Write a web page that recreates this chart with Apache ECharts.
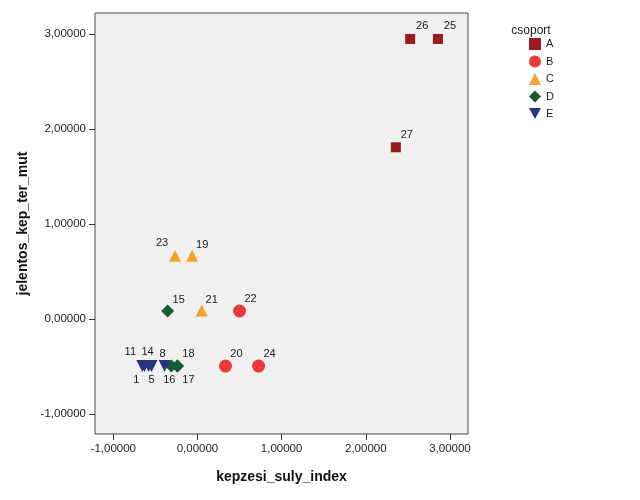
<!DOCTYPE html>
<html>
<head>
<meta charset="utf-8">
<script src="https://cdn.jsdelivr.net/npm/echarts@6/dist/echarts.min.js"></script>
<style>html,body{margin:0;padding:0;background:#fff}#c{width:640px;height:500px}</style>
</head>
<body>
<div id="c"></div>
<script>
// ---- data ----
const groups = ['A', 'B', 'C', 'D', 'E'];
const idsA = [25, 26, 27];
const xA = [2.857, 2.527, 2.357];
const yA = [2.948, 2.948, 1.808];
const idsB = [20, 22, 24];
const xB = [0.333, 0.500, 0.726];
const yB = [-0.496, 0.084, -0.496];
const idsC = [19, 21, 23];
const xC = [-0.063, 0.051, -0.266];
const yC = [0.665, 0.090, 0.665];
const idsD = [15, 16, 17, 18];
const xD = [-0.354, -0.310, -0.238, -0.238];
const yD = [0.084, -0.496, -0.496, -0.496];
const idsE = [1, 5, 8, 11, 14];
const xE = [-0.630, -0.545, -0.390, -0.655, -0.580];
const yE = [-0.496, -0.496, -0.496, -0.496, -0.496];
const tickValues = [-1, 0, 1, 2, 3];
const xName = 'kepzesi_suly_index';
const yName = 'jelentos_kep_ter_mut';
const legendTitle = 'csoport';

// ---- styling (label placement per case, relative to its marker) ----
const labelOffset = {
  25: [12, -13], 26: [12, -13], 27: [11, -12],
  23: [-13, -13], 19: [10, -11], 15: [11, -11], 21: [10, -10], 22: [11, -12],
  20: [11, -12], 24: [11, -12],
  11: [-12, -14], 1: [-8, 14], 14: [-1, -14], 5: [0, 14],
  8: [-2, -12], 16: [-2, 14], 18: [11, -12], 17: [11, 14]
};
const colors = ['#9C1B1F', '#EC393D', '#F4A12E', '#175B34', '#263580'];
const symbols = ['rect', 'circle', 'triangle', 'diamond', 'triangle'];
const legendIcons = ['rect', 'circle', 'triangle', 'diamond', 'path://M0,0 L10,0 L5,9 Z'];
const rotates = [0, 0, 0, 0, 180];
const sizes = [10, 13, 12, 13, 12];

const allIds = [idsA, idsB, idsC, idsD, idsE];
const allX = [xA, xB, xC, xD, xE];
const allY = [yA, yB, yC, yD, yE];

const fmt = v => v.toFixed(5).replace('.', ',');
const FONT = 'Liberation Sans, Arial, sans-serif';

const series = groups.map((g, gi) => ({
  name: g,
  type: 'scatter',
  symbol: symbols[gi],
  symbolRotate: rotates[gi],
  symbolSize: sizes[gi],
  itemStyle: { color: colors[gi], opacity: 1 },
  emphasis: { disabled: true },
  data: allIds[gi].map((id, i) => ({
    value: [allX[gi][i], allY[gi][i]],
    label: {
      show: true,
      formatter: String(id),
      position: 'inside',
      offset: labelOffset[id] || [11, -12],
      color: '#1a1a1a',
      fontSize: 11,
      fontFamily: FONT
    }
  }))
}));

const chart = echarts.init(document.getElementById('c'), null, { renderer: 'canvas' });
chart.setOption({
  animation: false,
  backgroundColor: '#ffffff',
  textStyle: { fontFamily: FONT },
  title: {
    text: legendTitle,
    left: 526, top: 20,
    textAlign: 'center',
    textStyle: { fontSize: 12, fontWeight: 'normal', color: '#1a1a1a', fontFamily: FONT }
  },
  legend: {
    orient: 'vertical',
    left: 524, top: 33,
    itemWidth: 12, itemHeight: 12, itemGap: 5.5,
    textStyle: { fontSize: 11, color: '#1a1a1a' },
    selectedMode: false,
    data: groups.map((g, gi) => ({ name: g, icon: legendIcons[gi] }))
  },
  grid: {
    left: 95, right: 172, top: 13, bottom: 66,
    show: true,
    backgroundColor: '#F0F0F0',
    borderColor: '#4a4a4a',
    borderWidth: 1
  },
  xAxis: {
    type: 'value',
    min: -1.217, max: 3.214,
    name: xName,
    nameLocation: 'middle',
    nameGap: 36,
    nameTextStyle: { fontSize: 14, fontWeight: 'bold', color: '#111' },
    axisLine: { show: false, onZero: false },
    splitLine: { show: false },
    axisTick: { show: true, length: 6, lineStyle: { color: '#333' }, customValues: tickValues },
    axisLabel: { color: '#222', fontSize: 11.5, margin: 9, formatter: fmt, customValues: tickValues }
  },
  yAxis: {
    type: 'value',
    min: -1.211, max: 3.222,
    name: yName,
    nameLocation: 'middle',
    nameGap: 54,
    nameTextStyle: { fontSize: 14, fontWeight: 'bold', color: '#111' },
    axisLine: { show: false, onZero: false },
    splitLine: { show: false },
    axisTick: { show: true, length: 6, lineStyle: { color: '#333' }, customValues: tickValues },
    axisLabel: { color: '#222', fontSize: 11.5, margin: 9, formatter: fmt, customValues: tickValues }
  },
  series: series
});
</script>
</body>
</html>
